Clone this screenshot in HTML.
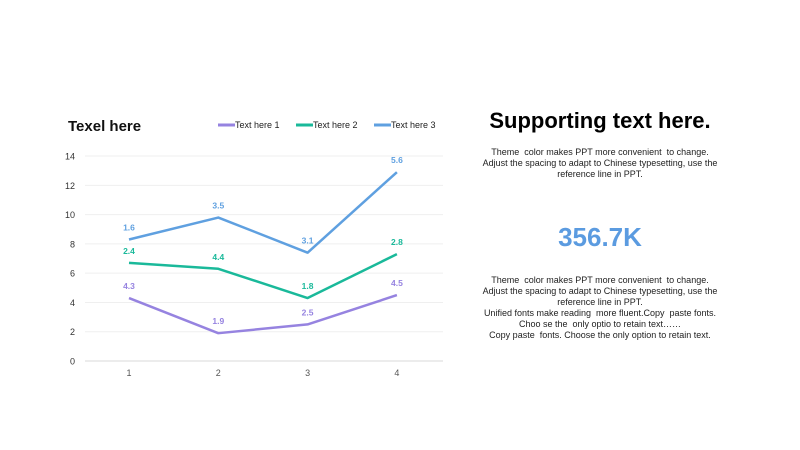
<!DOCTYPE html>
<html><head><meta charset="utf-8">
<style>
body{margin:0;background:#fff;font-family:"Liberation Sans",Arial,sans-serif;}
#wrap{position:relative;width:800px;height:450px;overflow:hidden;}
.t{position:absolute;text-align:center;color:#222;}
</style></head><body>
<div id="wrap">
<svg id="chart" width="800" height="450" style="position:absolute;left:0;top:0">
<text x="68" y="131" font-size="15" font-weight="bold" fill="#111">Texel here</text>
<g id="legend"></g>
<g id="grid"></g>
<g id="axes"></g>
<g id="series"></g>
</svg>
<div class="t" style="left:440px;top:108px;width:320px;font-size:22px;font-weight:bold;color:#000">Supporting text here.</div>
<div class="t" style="left:470px;top:147px;width:260px;font-size:9px;line-height:11px">Theme&nbsp; color makes PPT more convenient&nbsp; to change.<br>Adjust the spacing to adapt to Chinese typesetting, use the reference line in PPT.</div>
<div class="t" style="left:470px;top:222px;width:260px;font-size:26px;font-weight:bold;color:#5b9be0">356.7K</div>
<div class="t" style="left:470px;top:275px;width:260px;font-size:9px;line-height:11px">Theme&nbsp; color makes PPT more convenient&nbsp; to change.<br>Adjust the spacing to adapt to Chinese typesetting, use the reference line in PPT.<br>Unified fonts make reading&nbsp; more fluent.Copy&nbsp; paste fonts.<br>Choo se the&nbsp; only optio to retain text……<br>Copy paste&nbsp; fonts. Choose the only option to retain text.</div>
</div>
<script>
const categories=["1","2","3","4"];
const series1=[4.3,1.9,2.5,4.5];
const series2=[2.4,4.4,1.8,2.8];
const series3=[1.6,3.5,3.1,5.6];
const yTicks=[0,2,4,6,8,10,12,14];
const seriesNames=["Text here 1","Text here 2","Text here 3"];
const colors=["#9683e0","#1ab99a","#5fa0e0"];
const NS="http://www.w3.org/2000/svg";
function x(i){return 129+i*89.3;}
function y(v){return 361-v*14.64;}
function mk(tag,attrs,parent){const e=document.createElementNS(NS,tag);for(const k in attrs)e.setAttribute(k,attrs[k]);parent.appendChild(e);return e;}
const grid=document.getElementById('grid'),axes=document.getElementById('axes'),ser=document.getElementById('series'),leg=document.getElementById('legend');
yTicks.forEach(v=>{
 const l=mk('line',{x1:85,x2:443,y1:y(v),y2:y(v),stroke:v===0?'#d9d9d9':'#efefef','stroke-width':1},grid);
 
 
 const t=mk('text',{x:75,y:y(v)+3.5,'font-size':9,'text-anchor':'end',fill:'#333'},axes);
 t.textContent=v;
 
 
});
categories.forEach((c,i)=>{
 const t=mk('text',{x:x(i),y:376,'font-size':9,'text-anchor':'middle',fill:'#555'},axes);
 t.textContent=c;
 
 
});
const all=[series1,series2,series3];
const cum=[0,0,0,0];
all.forEach((s,k)=>{
 const pts=s.map((v,i)=>{cum[i]+=v;return [x(i),y(cum[i])];});
 const p=mk('polyline',{points:pts.map(p=>p.join(',')).join(' '),fill:'none',stroke:colors[k],'stroke-width':2.5,'stroke-linejoin':'round'},ser);
 
 
 s.forEach((v,i)=>{
  const t=mk('text',{x:pts[i][0],y:pts[i][1]-9,'font-size':8.5,'font-weight':'bold','text-anchor':'middle',fill:colors[k]},ser);
  t.textContent=v;
  
  
 });
});
const lx=[218,296,374];
seriesNames.forEach((n,k)=>{
 const g=mk('g',{},leg);
 
 
 mk('line',{x1:lx[k],x2:lx[k]+17,y1:125,y2:125,stroke:colors[k],'stroke-width':3},g);
 const t=mk('text',{x:lx[k]+17,y:128,'font-size':9,fill:'#222'},g);
 t.textContent=n;
});
</script>
</body></html>
